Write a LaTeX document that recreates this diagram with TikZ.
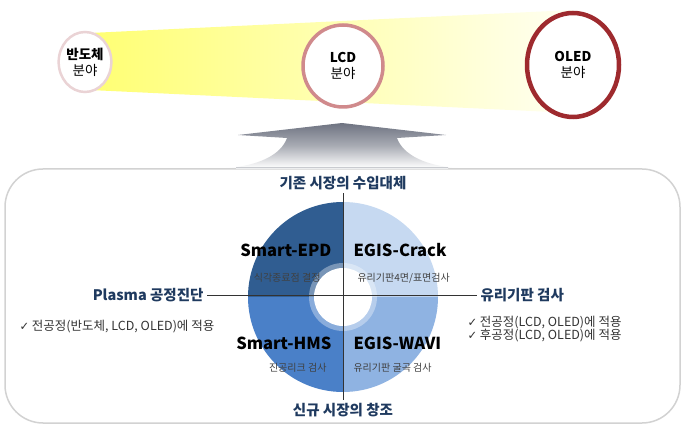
\documentclass[tikz,border=0pt]{standalone}
\usepackage{fontspec}
\setmainfont{Noto Sans CJK KR}
\newfontfamily\checkfont{DejaVu Sans}
\usetikzlibrary{positioning, shapes.geometric}

\definecolor{navy}{HTML}{1F3A5F}
\definecolor{qdark}{HTML}{305D91}
\definecolor{qmid}{HTML}{4A80C8}
\definecolor{qsoft}{HTML}{8FB3E2}
\definecolor{qpale}{HTML}{C6D9F1}
\definecolor{ringA}{HTML}{EAD3D5}
\definecolor{ringB}{HTML}{D08A8C}
\definecolor{ringC}{HTML}{9E2A2E}
\definecolor{arrowgray}{HTML}{6E7381}

\newcommand{\tick}{{\checkfont\fontsize{11.5}{13}\selectfont ✓}}

\begin{document}
\begin{tikzpicture}[x=1pt, y=1pt,
		field/.style = {ellipse, fill=white, align=center, font=\fontsize{13.5}{16}\selectfont, inner sep=0pt},
		axislabel/.style = {text=navy, font=\bfseries\fontsize{14.5}{17}\selectfont},
		product/.style = {font=\bfseries\fontsize{16.5}{19}\selectfont},
		detail/.style = {text=black!75, font=\fontsize{10}{12}\selectfont},
		note/.style = {text=black!80, anchor=west, font=\fontsize{12.5}{14}\selectfont},
	]
	\path[use as bounding box] (0,0) rectangle (685,431);
	% yellow band behind the fields
	\shade[left color=yellow!55, right color=yellow!5] (90,398) -- (573,421) -- (573,318) -- (90,341) -- cycle;
	\node[field, draw=ringA, line width=2.5pt, minimum width=48pt, minimum height=60pt] (semi) at (85,369) {\textbf{반도체}\\분야};
	\node[field, draw=ringB, line width=3.5pt, minimum width=80pt, minimum height=82pt] (lcd) at (343,365) {\textbf{LCD}\\분야};
	\node[field, draw=ringC, line width=4.5pt, minimum width=92pt, minimum height=104pt] (oled) at (573,366) {\textbf{OLED}\\분야};
	% gray arrow
	\shade[top color=arrowgray, bottom color=white, middle color=arrowgray!60]
		(226,263) .. controls (258,265) and (281,276) .. (287,293) -- (238,296) -- (342,308)
		-- (446,296) -- (397,293) .. controls (403,276) and (426,265) .. (458,263) -- cycle;
	% frame
	\draw[gray!35, line width=1.5pt, rounded corners=38pt, fill=white] (5,8) rectangle (680,262);
	\shade[top color=arrowgray!25, bottom color=white] (236,262.5) rectangle (448,263.5);
	% donut
	\coordinate (c) at (343,134);
	\fill[qpale] (c) -- ++(0:95) arc (0:90:95) -- cycle;
	\fill[qdark] (c) -- ++(90:95) arc (90:180:95) -- cycle;
	\fill[qmid] (c) -- ++(180:95) arc (180:270:95) -- cycle;
	\fill[qsoft] (c) -- ++(270:95) arc (270:360:95) -- cycle;
	\fill[white, opacity=0.35] (c) circle (34);
	\fill[white] (c) circle (29);
	% axes
	\node[axislabel] (import) at (343,248) {기존 시장의 수입대체};
	\node[axislabel] (create) at (343,21) {신규 시장의 창조};
	\node[axislabel, anchor=east] (plasma) at (207,136) {Plasma 공정진단};
	\node[axislabel, anchor=west] (glass) at (477,136) {유리기판 검사};
	\draw[black!80, line width=0.8pt] (import.south) -- (create.north);
	\draw[black!80, line width=0.8pt] (plasma.east) -- (glass.west);
	% quadrant labels
	\node[product, anchor=east] (epd) at (335,181) {Smart-EPD};
	\node[detail, anchor=east] (epdtxt) at (324,153) {식각종료점 결정};
	\node[product, anchor=west] (crack) at (350,181) {EGIS-Crack};
	\node[detail, anchor=west] (cracktxt) at (354,153) {유리기판4면/표면검사};
	\node[product, anchor=east] (hms) at (335,88) {Smart-HMS};
	\node[detail, anchor=east] (hmstxt) at (330,63) {진공리크 검사};
	\node[product, anchor=west] (wavi) at (350,88) {EGIS-WAVI};
	\node[detail, anchor=west] (wavitxt) at (350,63) {유리기판 굴곡 검사};
	% notes
	\node[note] (plasmanote) at (16,104) {\tick\ 전공정(반도체, LCD, OLED)에 적용};
	\node[note] (glassnote1) at (464,108) {\tick\ 전공정(LCD, OLED)에 적용};
	\node[note, below=-7pt of glassnote1.south west, anchor=north west] (glassnote2) {\tick\ 후공정(LCD, OLED)에 적용};
\end{tikzpicture}
\end{document}
